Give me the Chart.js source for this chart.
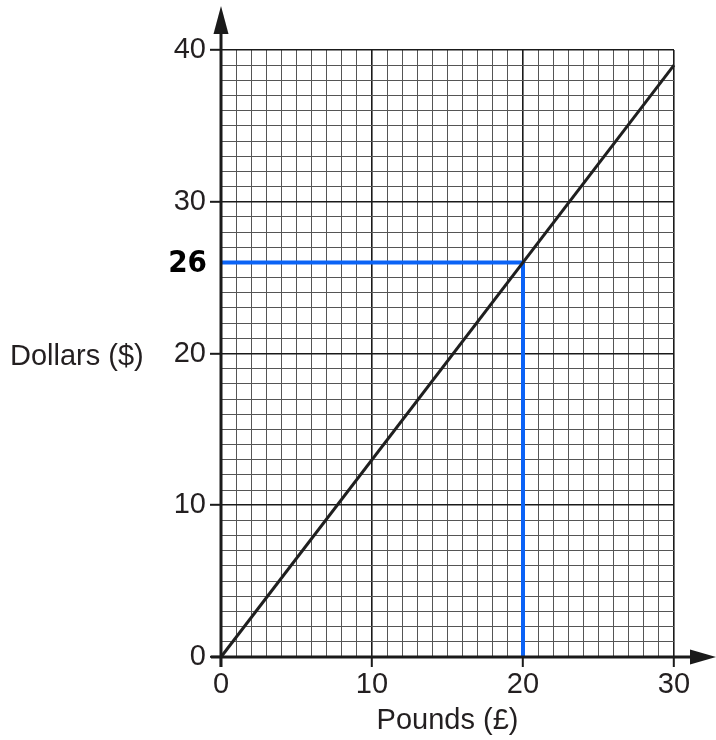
<!DOCTYPE html>
<html>
<head>
<meta charset="utf-8">
<script src="https://cdn.jsdelivr.net/npm/chart.js@4/dist/chart.umd.min.js"></script>
<style>
  html, body { margin: 0; padding: 0; background: #fff; }
  canvas { display: block; }
</style>
</head>
<body>
<canvas id="chart" width="716" height="740"></canvas>
<script>
// conversion line, pounds -> dollars
const pounds = [0, 30];
const dollars = [0, 39];
// reading drawn on the graph
const readPounds = 20;
const readDollars = 26;
// labelled ticks
const xTickLabels = [0, 10, 20, 30];
const yTickLabels = [0, 10, 20, 30, 40];
const xTitle = 'Pounds (£)';
const yTitle = 'Dollars ($)';

const FONT = '"Liberation Sans", Arial, sans-serif';

const linePoints = pounds.map((p, i) => ({ x: p, y: dollars[i] }));
const readingPoints = [
    { x: 0, y: readDollars },
    { x: readPounds, y: readDollars },
    { x: readPounds, y: 0 },
];

// axes with arrows, axis titles and the handwritten reading
const extras = {
    id: 'extras',
    afterDatasetsDraw(chart) {
        const { ctx, scales: { x, y } } = chart;
        const x0 = x.getPixelForValue(0);
        const y0 = y.getPixelForValue(0);
        ctx.save();
        ctx.strokeStyle = '#1a1a1a';
        ctx.fillStyle = '#1a1a1a';
        ctx.lineWidth = 3;
        ctx.beginPath();
        ctx.moveTo(x0, y0 + 10);
        ctx.lineTo(x0, 30);
        ctx.moveTo(x0 - 10, y0);
        ctx.lineTo(695, y0);
        ctx.stroke();
        // arrow heads
        ctx.beginPath();
        ctx.moveTo(x0, 6);
        ctx.lineTo(x0 - 7.5, 34);
        ctx.lineTo(x0 + 7.5, 34);
        ctx.closePath();
        ctx.fill();
        ctx.beginPath();
        ctx.moveTo(716, y0);
        ctx.lineTo(690, y0 - 7.5);
        ctx.lineTo(690, y0 + 7.5);
        ctx.closePath();
        ctx.fill();

        ctx.fillStyle = '#231f20';
        ctx.font = '29px ' + FONT;
        ctx.textBaseline = 'middle';
        ctx.textAlign = 'left';
        ctx.fillText(yTitle, 10, 357);
        ctx.textAlign = 'center';
        ctx.fillText(xTitle, (x.left + x.right) / 2, 721);

        ctx.fillStyle = '#000';
        ctx.font = 'bold 31px "DejaVu Sans Condensed", "DejaVu Sans", sans-serif';
        ctx.textAlign = 'right';
        ctx.fillText(String(readDollars), 207, y.getPixelForValue(readDollars) + 2);
        ctx.restore();
    }
};

const gridColor = ctx => (ctx.tick && ctx.tick.value % 10 === 0) ? '#1a1a1a' : '#555';
const gridWidth = ctx => (ctx.tick && ctx.tick.value % 10 === 0) ? 1.6 : 1;
const tickColor = ctx => (ctx.tick && ctx.tick.value % 10 === 0) ? '#1a1a1a' : 'rgba(0,0,0,0)';

new Chart(document.getElementById('chart').getContext('2d'), {
    type: 'scatter',
    data: {
        datasets: [
            {
                data: linePoints,
                showLine: true,
                borderColor: '#1f1f1f',
                borderWidth: 3,
                pointRadius: 0,
                clip: false,
                order: 0,
            },
            {
                data: readingPoints,
                showLine: true,
                borderColor: '#0b63f6',
                borderWidth: 4,
                pointRadius: 0,
                clip: false,
                order: 1,
            },
        ],
    },
    options: {
        responsive: false,
        animation: false,
        devicePixelRatio: 1,
        layout: { padding: { left: 0, right: 42, top: 50, bottom: 0 } },
        plugins: { legend: { display: false }, tooltip: { enabled: false } },
        scales: {
            x: {
                type: 'linear',
                min: 0,
                max: 30,
                afterFit: s => { s.height = 83; },
                border: { display: false },
                grid: { color: gridColor, lineWidth: gridWidth, tickColor: tickColor, tickLength: 10, tickWidth: 2 },
                ticks: {
                    stepSize: 1,
                    autoSkip: false,
                    maxTicksLimit: 100,
                    maxRotation: 0,
                    padding: 1,
                    color: '#231f20',
                    font: { family: FONT, size: 29 },
                    callback: v => xTickLabels.includes(v) ? String(v) : '',
                },
            },
            y: {
                type: 'linear',
                min: 0,
                max: 40,
                afterFit: s => { s.width = 221; },
                border: { display: false },
                grid: { color: gridColor, lineWidth: gridWidth, tickColor: tickColor, tickLength: 11, tickWidth: 2 },
                ticks: {
                    stepSize: 1,
                    autoSkip: false,
                    maxTicksLimit: 100,
                    padding: 4,
                    color: '#231f20',
                    font: { family: FONT, size: 29 },
                    callback: v => yTickLabels.includes(v) ? String(v) : '',
                },
            },
        },
    },
    plugins: [extras],
});
</script>
</body>
</html>
